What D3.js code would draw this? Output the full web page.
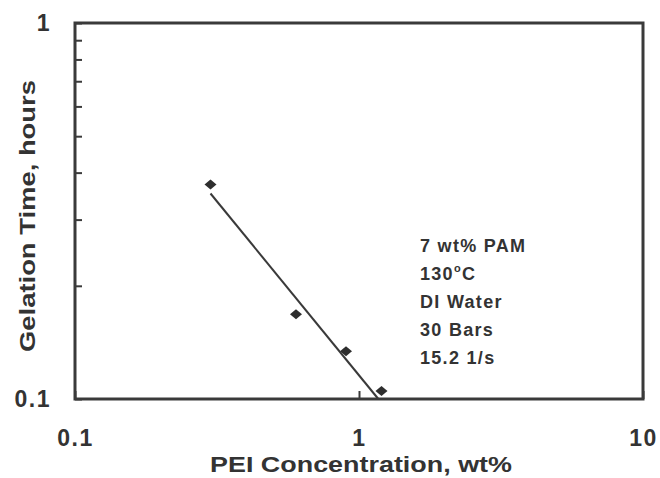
<!DOCTYPE html>
<html>
<head>
<meta charset="utf-8">
<script src="https://cdn.jsdelivr.net/npm/d3@7"></script>
<style>
  body { margin: 0; background: #fff; }
  svg text { font-family: Arial, "Liberation Sans", sans-serif; font-weight: bold; fill: #333; }
</style>
</head>
<body>
<div id="chart"></div>
<script>
// measured points (PEI wt%, gelation time h)
const peiConc = [0.3, 0.6, 0.9, 1.2];
const gelTime = [0.372, 0.168, 0.134, 0.105];

// power-law fit drawn as straight segment on log-log
const fitX = [0.3, 1.17];
const fitY = [0.352, 0.1];

const xTicks = [0.1, 1, 10];
const yTicks = [0.1, 0.2, 0.3, 0.4, 0.5, 0.6, 0.7, 0.8, 0.9, 1];
const yLabeled = [0.1, 1];

const notes = ['7 wt% PAM', '130|o|C', 'DI Water', '30 Bars', '15.2 1/s'];

const width = 660, height = 478;
const margin = { top: 23, right: 17, bottom: 79, left: 75 };
const ink = '#3a3a3a';

const svg = d3.select('#chart').append('svg')
  .attr('width', width)
  .attr('height', height);

const x = d3.scaleLog().domain([0.1, 10]).range([margin.left, width - margin.right]);
const y = d3.scaleLog().domain([0.1, 1]).range([height - margin.bottom, margin.top]);

// x axis - tick only at decade, pointing in
const xAxis = svg.append('g')
  .attr('transform', `translate(0,${y(0.1)})`)
  .call(d3.axisBottom(x).tickValues(xTicks).tickSize(-8).tickPadding(31)
    .tickFormat(d => d === 1 ? '1' : d === 10 ? '10' : '0.1'));
xAxis.select('.domain').remove();
xAxis.selectAll('line').attr('stroke', ink).attr('stroke-width', 2);
xAxis.selectAll('text').style('font-size', '23px').style('letter-spacing', '1.5px').attr('fill', '#333');

// y axis - minor ticks inside, labels only at 0.1 and 1
const yAxis = svg.append('g')
  .attr('transform', `translate(${x(0.1)},0)`)
  .call(d3.axisLeft(y).tickValues(yTicks).tickSize(-7).tickPadding(24)
    .tickFormat(d => yLabeled.includes(d) ? (d === 1 ? '1' : '0.1') : ''));
yAxis.select('.domain').remove();
yAxis.selectAll('line').attr('stroke', ink).attr('stroke-width', 2);
yAxis.selectAll('text').style('font-size', '23px').style('letter-spacing', '1.5px').attr('fill', '#333');

// frame
svg.append('rect')
  .attr('x', x(0.1))
  .attr('y', y(1))
  .attr('width', x(10) - x(0.1))
  .attr('height', y(0.1) - y(1))
  .attr('fill', 'none')
  .attr('stroke', ink)
  .attr('stroke-width', 3);

// fit line
const fitData = fitX.map((v, i) => [v, fitY[i]]);
svg.append('path')
  .datum(fitData)
  .attr('fill', 'none')
  .attr('stroke', ink)
  .attr('stroke-width', 2)
  .attr('d', d3.line().x(d => x(d[0])).y(d => y(d[1])));

// diamonds
const pts = peiConc.map((v, i) => ({ x: v, y: gelTime[i] }));
svg.selectAll('.point')
  .data(pts)
  .enter()
  .append('path')
  .attr('class', 'point')
  .attr('transform', d => `translate(${x(d.x)},${y(d.y)})`)
  .attr('d', 'M-6,0L0,-5L6,0L0,5Z')
  .attr('fill', '#2e2e2e');

// annotation block
const note = svg.append('text')
  .attr('x', 420)
  .attr('y', 252)
  .style('font-size', '18px')
  .style('letter-spacing', '1.3px');
notes.forEach((line, i) => {
  const parts = line.split('|');
  note.append('tspan')
    .attr('x', 420)
    .attr('y', 252 + i * 28)
    .text(parts[0]);
  if (parts.length > 1) {
    note.append('tspan')
      .attr('dy', -8)
      .style('font-size', '11px')
      .text(parts[1]);
    note.append('tspan')
      .attr('dy', 8)
      .text(parts[2]);
  }
});

// axis titles (stretched a little, like the original scan)
svg.append('text')
  .attr('x', 210)
  .attr('y', 472)
  .attr('textLength', 302)
  .attr('lengthAdjust', 'spacingAndGlyphs')
  .style('font-size', '22px')
  .text('PEI Concentration, wt%');

svg.append('text')
  .attr('transform', 'translate(35,352) rotate(-90)')
  .attr('textLength', 272)
  .attr('lengthAdjust', 'spacingAndGlyphs')
  .style('font-size', '22px')
  .text('Gelation Time, hours');
</script>
</body>
</html>
